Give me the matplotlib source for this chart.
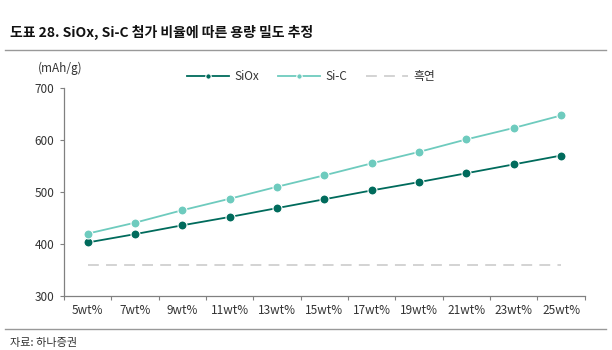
import matplotlib
matplotlib.use("Agg")
import matplotlib.pyplot as plt
import numpy as np

plt.rcParams['font.family'] = ['Noto Sans CJK KR', 'DejaVu Sans']

categories = ['5wt%', '7wt%', '9wt%', '11wt%', '13wt%', '15wt%', '17wt%', '19wt%', '21wt%', '23wt%', '25wt%']
siox = [403, 419, 436, 452, 469, 486, 503, 519, 536, 553, 570]
sic = [420, 441, 465, 487, 510, 532, 555, 577, 601, 623, 647]
graphite = [360] * len(categories)
yticks = [300, 400, 500, 600, 700]

c_siox = '#006B5C'
c_sic = '#6ECBBE'
c_gr = '#D0D0D0'
axis_c = '#808080'

fig = plt.figure(figsize=(6.12, 3.5), dpi=100)
ax = fig.add_axes([0.1046, 0.154, 0.851, 0.595])
x = np.arange(len(categories))

ax.plot(x, siox, color=c_siox, lw=1.3, marker='o', ms=6.5, mec='white', mew=0.8, label='SiOx')
ax.plot(x, sic, color=c_sic, lw=1.3, marker='o', ms=6.5, mec='white', mew=0.8, label='Si-C')
ax.plot(x, graphite, color=c_gr, lw=1.3, dashes=(6, 4), label='흑연')

ax.set_xlim(-0.5, len(categories) - 0.5)
ax.set_ylim(300, 700)
ax.set_yticks(yticks)
ax.set_yticklabels([str(v) for v in yticks], fontsize=8.5, color='#333333')
ax.set_xticks(x)
ax.set_xticklabels(categories, fontsize=8.5, color='#333333')
ax.set_xticks(np.arange(-0.5, len(categories)), minor=True)
ax.tick_params(axis='x', which='major', length=0, pad=6)
ax.tick_params(axis='x', which='minor', length=3, color=axis_c, width=0.8)
ax.tick_params(axis='y', length=3, color=axis_c, width=0.8, pad=4)
for s in ['top', 'right']:
    ax.spines[s].set_visible(False)
for s in ['left', 'bottom']:
    ax.spines[s].set_color(axis_c)
    ax.spines[s].set_linewidth(0.9)

leg = ax.legend(loc='center', bbox_to_anchor=(0.475, 1.055), ncol=3, frameon=False,
                fontsize=8.5, handlelength=3.5, columnspacing=1.6, handletextpad=0.5,
                markerscale=0.6)
for t in leg.get_texts():
    t.set_color('#333333')

fig.text(0.062, 0.795, '(mAh/g)', fontsize=8.5, color='#333333')

fig.text(0.016, 0.895, '도표 28. SiOx, Si-C 첨가 비율에 따른 용량 밀도 추정', fontsize=10,
         fontweight='bold', color='#111111')
fig.add_artist(plt.Line2D([0.008, 0.99], [0.857, 0.857], color='#999999', lw=1))
fig.add_artist(plt.Line2D([0.008, 0.99], [0.06, 0.06], color='#999999', lw=1))
fig.text(0.016, 0.012, '자료: 하나증권', fontsize=8, color='#333333')

fig.savefig('out.png', dpi=100)
